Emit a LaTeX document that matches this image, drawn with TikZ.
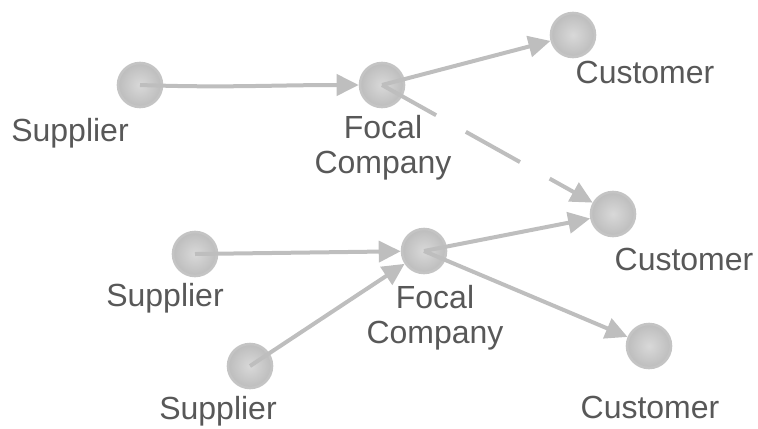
\documentclass[tikz,border=0pt]{standalone}
\usepackage{fontspec}
\setmainfont{Liberation Sans}
\usetikzlibrary{arrows.meta}

\definecolor{linkgray}{RGB}{190,190,190}
\definecolor{labelgray}{RGB}{88,88,88}
\definecolor{rimgray}{RGB}{196,196,196}

\tikzset{
	firm/.style={circle, minimum size=22pt, inner sep=0pt, draw=rimgray,
		line width=1.3pt, shading=radial, inner color=gray!30,
		outer color=gray!52},
	firmlabel/.style={text=labelgray, align=center,
		font=\fontsize{16}{17.5}\selectfont},
	link/.style={draw=linkgray, line width=2pt,
		-{Triangle[length=11pt, width=10.5pt]}},
}

\begin{document}
\begin{tikzpicture}[x=0.5pt, y=-0.5pt]
	\useasboundingbox (0,0) rectangle (758,428);
	% Knoten oben
	\node[firm] (sup1) at (140, 85) {};
	\node[firm] (foc1) at (382, 85) {};
	\node[firm] (cus1) at (573, 35) {};
	\node[firm] (cus2) at (613, 214) {};
	% Knoten unten
	\node[firm] (sup2) at (195, 254) {};
	\node[firm] (foc2) at (424, 251) {};
	\node[firm] (sup3) at (250, 366) {};
	\node[firm] (cus3) at (649, 346) {};

	% Beschriftungen
	\node[firmlabel] (sup1lbl) at (70, 133) {Supplier};
	\node[firmlabel] (foc1lbl) at (383, 148) {Focal\\Company};
	\node[firmlabel] (cus1lbl) at (645, 72) {Customer};
	\node[firmlabel] (cus2lbl) at (684, 259) {Customer};
	\node[firmlabel] (sup2lbl) at (165, 298) {Supplier};
	\node[firmlabel] (foc2lbl) at (435, 318) {Focal\\Company};
	\node[firmlabel] (sup3lbl) at (218, 411) {Supplier};
	\node[firmlabel] (cus3lbl) at (650, 407) {Customer};

	% Verbindungen
	\draw[link] (sup1.center) to[out=-2, in=180] (foc1);
	\draw[link] (foc1.center) -- (cus1);
	\draw[link, dash pattern=on 31pt off 17pt] (foc1.center) -- (cus2);
	\draw[link] (sup2.center) -- (foc2);
	\draw[link] (sup3.center) -- (foc2);
	\draw[link] (foc2.center) -- (cus2);
	\draw[link] (foc2.center) -- (cus3);
\end{tikzpicture}
\end{document}
